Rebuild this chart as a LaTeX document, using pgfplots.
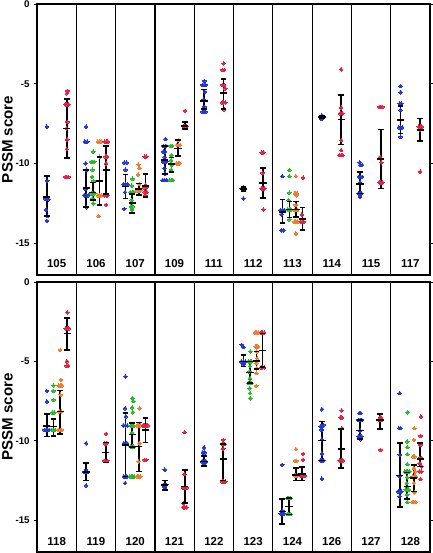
\documentclass[border=0pt]{standalone}
\usepackage{pgfplots}
\pgfplotsset{compat=1.18}
\usepackage{fontspec}
\setmainfont{Liberation Sans}
\definecolor{cblue}{RGB}{35,55,215}
\definecolor{cgreen}{RGB}{40,185,40}
\definecolor{corange}{RGB}{240,125,45}
\definecolor{cred}{RGB}{225,35,65}
\tikzset{lab/.style={font=\fontsize{8.6}{9}\selectfont\bfseries}}
\pgfplotsset{
  panel/.style={
    scale only axis, width=294.75pt, anchor=north west,
    xmin=0, xmax=10, ymin=-17, ymax=0,
    xtick={1,...,9}, xticklabels={}, xmajorgrids,
    major x grid style={black, line width=0.9pt},
    x tick style={draw=none},
    ytick={0,-5,-10,-15}, tick align=outside, major tick length=2pt,
    y tick style={black, line width=0.7pt},
    axis line style={black, line width=1.1pt},
    /pgf/number format/assume math mode=true,
    yticklabel style={font=\fontsize{7.3}{8}\selectfont\bfseries},
    ylabel={PSSM score},
    ylabel style={at={(axis description cs:-0.075,0.5)}, anchor=center, font=\fontsize{11.3}{13}\selectfont\bfseries},
    clip=false,
  },
  pts/.style={only marks, mark=*, mark size=1.35pt, color=#1, mark options={draw=#1, fill=#1, line width=0pt}},
  eb/.style={black, only marks, mark=-, mark size=2.7pt, mark options={black, line width=1.2pt},
    error bars/.cd, y dir=both, y explicit, error mark=none,
    error bar style={black, line width=1.2pt}},
  caps/.style={black, only marks, mark=-, mark size=2.1pt, mark options={black, line width=1.2pt}},
}
\begin{document}
\begin{tikzpicture}
\useasboundingbox (0,0) rectangle (324pt,-414.75pt);
% ---------------- top panel ----------------
\begin{axis}[panel, at={(27.75pt,-3pt)}, height=203.25pt]
\addplot[pts=cblue] coordinates {
(0.25,-7.7)(0.26,-11.1)(0.21,-12.2)(0.25,-12.2)(0.29,-12.25)(0.23,-12.9)(0.27,-13.3)(0.25,-13.6)
(1.25,-7.7)(1.22,-8.64)(1.28,-8.64)(1.24,-10.0)(1.26,-10.4)(1.23,-11.6)(1.20,-12.0)(1.25,-12.0)(1.30,-12.0)(1.25,-12.75)
(2.22,-9.95)(2.28,-9.95)(2.25,-10.4)(2.20,-11.3)(2.25,-11.3)(2.30,-11.3)(2.24,-11.8)(2.22,-12.85)
(3.27,-8.47)(3.22,-8.9)(3.28,-8.9)(3.21,-9.27)(3.26,-9.27)(3.25,-9.6)(3.21,-9.9)(3.25,-9.9)(3.29,-9.9)(3.24,-10.3)(3.26,-10.63)(3.20,-11.05)(3.25,-11.05)(3.30,-11.05)
(4.26,-4.83)(4.21,-5.08)(4.25,-5.08)(4.29,-5.08)(4.27,-5.5)(4.24,-6.0)(4.26,-6.45)(4.21,-6.76)(4.25,-6.76)(4.29,-6.76)
(5.21,-11.57)(5.25,-11.57)(5.29,-11.57)(5.25,-11.5)(5.25,-12.2)
(6.24,-10.8)(6.20,-12.93)(6.25,-12.93)(6.29,-12.93)(6.22,-13.2)(6.22,-14.19)(6.27,-14.19)
(7.22,-7.1)(7.25,-7.0)(7.28,-7.1)(7.24,-7.2)(7.26,-7.2)
(8.21,-9.94)(8.23,-10.1)(8.27,-10.1)(8.19,-10.84)(8.23,-10.84)(8.27,-10.84)(8.22,-11.2)(8.18,-11.89)(8.22,-11.89)(8.26,-11.89)(8.22,-12.1)
(9.25,-5.15)(9.25,-5.54)(9.23,-6.24)(9.27,-6.24)(9.25,-6.65)(9.21,-7.74)(9.25,-7.74)(9.29,-7.74)(9.25,-8.33)
};
\addplot[pts=cgreen] coordinates {
(1.43,-9.27)(1.38,-9.9)(1.42,-9.9)(1.46,-9.9)(1.41,-10.4)(1.40,-10.84)(1.44,-11.1)(1.38,-11.9)(1.42,-11.9)(1.46,-11.9)(1.41,-12.2)(1.43,-12.5)
(2.43,-10.96)(2.41,-11.4)(2.38,-11.8)(2.42,-11.8)(2.46,-11.8)(2.41,-12.3)(2.39,-12.7)(2.44,-12.7)(2.42,-12.9)
(3.40,-8.9)(3.44,-8.9)(3.42,-9.48)(3.41,-9.8)(3.43,-10.1)(3.41,-10.4)(3.38,-11.05)(3.42,-11.05)(3.46,-11.05)
(6.42,-10.42)(6.42,-10.8)(6.42,-11.84)(6.40,-12.3)(6.38,-12.89)(6.42,-12.89)(6.46,-12.89)(6.42,-13.52)
};
\addplot[pts=corange] coordinates {
(1.55,-8.64)(1.59,-8.64)(1.63,-8.64)(1.60,-9.58)(1.55,-12.0)(1.59,-12.0)(1.63,-12.0)(1.57,-13.3)
(2.58,-10.07)(2.61,-10.3)(2.57,-10.7)(2.60,-11.3)(2.55,-11.7)(2.59,-11.7)(2.63,-11.7)
(3.60,-8.54)(3.56,-8.85)(3.60,-8.85)(3.64,-8.85)(3.55,-10.0)(3.59,-10.0)(3.63,-10.0)
(6.59,-10.8)(6.56,-11.9)(6.59,-11.85)(6.62,-11.9)(6.60,-12.0)(6.58,-12.6)(6.56,-12.93)(6.62,-12.93)(6.55,-13.66)(6.59,-13.66)(6.63,-13.66)(6.59,-14.4)
};
\addplot[pts=cred] coordinates {
(0.78,-5.45)(0.76,-5.6)(0.72,-6.3)(0.76,-6.3)(0.80,-6.3)(0.77,-7.4)(0.75,-7.8)(0.77,-8.5)(0.76,-9.1)(0.72,-10.85)(0.76,-10.85)(0.80,-10.85)
(1.72,-8.64)(1.76,-8.64)(1.80,-8.64)(1.74,-9.58)(1.78,-9.58)(1.76,-10.0)(1.72,-12.0)(1.76,-12.0)(1.80,-12.0)(1.76,-12.6)
(2.74,-9.58)(2.78,-9.58)(2.76,-11.36)(2.72,-11.5)(2.78,-11.5)(2.74,-11.8)(2.79,-11.8)(2.76,-12.0)
(3.77,-6.7)(3.72,-7.66)(3.76,-7.66)(3.80,-7.66)
(4.75,-3.73)(4.72,-4.14)(4.76,-4.14)(4.72,-5.08)(4.76,-5.08)(4.79,-5.3)(4.71,-6.17)(4.75,-6.17)(4.79,-6.17)(4.76,-6.61)
(5.72,-9.31)(5.76,-9.31)(5.71,-11.57)(5.75,-11.57)(5.79,-11.57)(5.74,-10.6)(5.76,-12.89)
(6.77,-10.9)(6.71,-13.66)(6.75,-13.66)(6.79,-13.66)(6.74,-13.2)
(7.74,-4.1)(7.74,-6.51)(7.71,-6.86)(7.77,-6.86)(7.74,-8.54)(7.74,-9.17)(7.70,-9.48)(7.74,-9.48)(7.78,-9.48)
(8.71,-6.45)(8.75,-6.45)(8.79,-6.45)(8.76,-9.94)(8.73,-9.6)(8.71,-11.19)(8.75,-11.19)(8.79,-11.19)
(9.71,-7.7)(9.75,-7.7)(9.79,-7.7)(9.75,-7.9)(9.75,-10.52)
};
\addplot[eb] coordinates {
(0.25,-12.1) += (0,1.32) -= (0,1.2)
(0.76,-7.8) += (0,1.84) -= (0,1.87)
(1.25,-11.56) += (0,1.16) -= (0,1.19)
(1.42,-11.82) += (0,0.62) -= (0,0.48)
(1.59,-11.1) += (0,1.52) -= (0,1.5)
(1.76,-10.4) += (0,1.5) -= (0,1.5)
(2.25,-11.45) += (0,0.75) -= (0,0.75)
(2.42,-12.5) += (0,0.6) -= (0,0.6)
(2.59,-11.6) += (0,0.34) -= (0,0.4)
(2.76,-11.4) += (0,0.75) -= (0,0.7)
(3.25,-9.8) += (0,0.89) -= (0,0.87)
(3.42,-10.04) += (0,0.41) -= (0,0.48)
(3.59,-9.06) += (0,0.52) -= (0,0.48)
(3.76,-7.66) += (0,0.27) -= (0,0.19)
(4.25,-6.07) += (0,0.71) -= (0,0.52)
(4.75,-5.6) += (0,0.89) -= (0,1.0)
(5.25,-11.6) += (0,0.12) -= (0,0.14)
(5.75,-11.24) += (0,0.97) -= (0,0.94)
(6.25,-13.04) += (0,0.78) -= (0,0.69)
(6.42,-12.89) += (0,0.49) -= (0,0.51)
(6.59,-12.89) += (0,0.5) -= (0,0.46)
(6.76,-13.5) += (0,0.74) -= (0,0.69)
(7.25,-7.1) += (0,0.08) -= (0,0.08)
(7.74,-7.24) += (0,1.53) -= (0,1.57)
(8.22,-11.3) += (0,0.78) -= (0,0.59)
(8.75,-9.71) += (0,1.84) -= (0,1.86)
(9.25,-7.28) += (0,0.88) -= (0,0.84)
(9.75,-7.91) += (0,0.73) -= (0,0.69)
};
\addplot[caps] coordinates {
(0.25,-10.78)(0.25,-13.3)(0.76,-5.96)(0.76,-9.67)
(1.25,-10.4)(1.25,-12.75)(1.42,-11.2)(1.42,-12.3)(1.59,-9.58)(1.59,-12.6)(1.76,-8.9)(1.76,-11.9)
(2.25,-10.7)(2.25,-12.2)(2.42,-11.9)(2.42,-13.1)(2.59,-11.26)(2.59,-12.0)(2.76,-10.65)(2.76,-12.1)
(3.25,-8.91)(3.25,-10.67)(3.42,-9.63)(3.42,-10.52)(3.59,-8.54)(3.59,-9.54)(3.76,-7.39)(3.76,-7.85)
(4.25,-5.36)(4.25,-6.59)(4.75,-4.71)(4.75,-6.6)
(5.25,-11.48)(5.25,-11.74)(5.75,-10.27)(5.75,-12.18)
(6.25,-12.26)(6.25,-13.73)(6.42,-12.4)(6.42,-13.4)(6.59,-12.39)(6.59,-13.35)(6.76,-12.76)(6.76,-14.19)
(7.25,-7.02)(7.25,-7.18)(7.74,-5.71)(7.74,-8.81)
(8.22,-10.52)(8.22,-11.89)(8.75,-7.87)(8.75,-11.57)
(9.25,-6.4)(9.25,-8.12)(9.75,-7.18)(9.75,-8.6)
};
\node[lab] at (axis cs:0.5,-16.3) {105};
\node[lab] at (axis cs:1.5,-16.3) {106};
\node[lab] at (axis cs:2.5,-16.3) {107};
\node[lab] at (axis cs:3.5,-16.3) {109};
\node[lab] at (axis cs:4.5,-16.3) {111};
\node[lab] at (axis cs:5.5,-16.3) {112};
\node[lab] at (axis cs:6.5,-16.3) {113};
\node[lab] at (axis cs:7.5,-16.3) {114};
\node[lab] at (axis cs:8.5,-16.3) {115};
\node[lab] at (axis cs:9.5,-16.3) {117};
\end{axis}
% ---------------- bottom panel ----------------
\begin{axis}[panel, at={(27.75pt,-211.5pt)}, height=202.5pt]
\addplot[pts=cblue] coordinates {
(0.25,-6.86)(0.25,-7.53)(0.19,-9.31)(0.23,-9.31)(0.27,-9.31)(0.31,-9.31)
(1.25,-10.15)(1.21,-11.95)(1.25,-11.95)(1.29,-11.95)(1.25,-12.81)
(2.25,-5.95)(2.24,-7.95)(2.26,-8.47)(2.20,-9.04)(2.25,-9.04)(2.30,-9.04)(2.21,-10.15)(2.25,-10.2)(2.29,-10.15)(2.21,-12.25)(2.25,-12.25)(2.29,-12.25)(2.24,-12.66)
(3.25,-11.82)(3.21,-12.77)(3.25,-12.77)(3.29,-12.77)(3.25,-12.95)
(4.25,-10.42)(4.22,-10.73)(4.27,-10.73)(4.20,-11.3)(4.25,-11.3)(4.30,-11.3)(4.25,-11.5)
(5.21,-3.96)(5.25,-4.1)(5.20,-5.01)(5.25,-5.01)(5.30,-5.01)(5.25,-5.2)
(6.24,-11.51)(6.20,-14.59)(6.25,-14.59)(6.29,-14.59)(6.25,-14.4)
(7.25,-8.01)(7.21,-9.1)(7.25,-9.1)(7.29,-9.0)(7.24,-9.31)(7.25,-9.9)(7.25,-10.8)(7.21,-11.24)(7.25,-11.24)(7.29,-11.24)(7.25,-12.39)
(8.20,-8.26)(8.24,-8.26)(8.18,-8.68)(8.22,-8.68)(8.26,-8.68)(8.22,-9.35)(8.18,-9.73)(8.22,-9.73)(8.26,-9.73)(8.22,-9.9)
(9.23,-7.0)(9.21,-9.2)(9.25,-9.2)(9.23,-10.88)(9.23,-12.24)(9.19,-13.19)(9.23,-13.19)(9.27,-13.19)(9.23,-13.5)
};
\addplot[pts=cgreen] coordinates {
(0.42,-6.52)(0.42,-6.86)(0.42,-7.42)(0.39,-8.22)(0.44,-8.22)(0.38,-9.31)(0.42,-9.31)(0.46,-9.31)
(2.43,-7.32)(2.45,-7.5)(2.42,-7.9)(2.44,-8.2)(2.38,-9.04)(2.42,-9.04)(2.46,-9.04)(2.42,-9.5)(2.38,-10.36)(2.42,-10.36)(2.46,-10.36)(2.36,-12.25)(2.40,-12.25)(2.44,-12.25)(2.48,-12.25)
(5.43,-4.38)(5.38,-5.01)(5.42,-5.01)(5.46,-5.01)(5.42,-5.3)(5.40,-5.64)(5.42,-6.06)(5.38,-6.37)(5.42,-6.37)(5.46,-6.37)(5.41,-6.69)(5.42,-7.0)(5.43,-7.32)
(6.37,-13.6)(6.41,-13.6)(6.45,-13.6)(6.37,-14.61)(6.41,-14.61)(6.45,-14.61)
(9.43,-8.2)(9.42,-10.04)(9.42,-10.4)(9.42,-10.84)(9.42,-11.47)(9.36,-11.93)(9.40,-11.93)(9.44,-11.93)(9.48,-11.93)(9.42,-12.3)(9.41,-12.66)(9.38,-13.08)(9.42,-13.08)(9.46,-13.08)(9.42,-13.4)(9.42,-13.86)
};
\addplot[pts=corange] coordinates {
(0.59,-4.28)(0.61,-6.16)(0.55,-6.52)(0.59,-6.52)(0.63,-6.52)(0.60,-7.1)(0.56,-8.15)(0.62,-8.15)(0.55,-9.31)(0.59,-9.31)(0.63,-9.31)
(2.61,-7.95)(2.55,-9.04)(2.59,-9.04)(2.63,-9.04)(2.61,-10.15)(2.58,-11.3)(2.55,-12.25)(2.59,-12.25)(2.63,-12.25)
(5.55,-3.19)(5.59,-3.19)(5.63,-3.19)(5.56,-4.07)(5.59,-4.07)(5.62,-4.07)(5.59,-4.38)(5.60,-4.8)(5.58,-5.1)(5.59,-5.43)(5.58,-5.74)(5.58,-6.54)
(6.59,-10.52)(6.57,-11.26)(6.61,-11.26)(6.55,-12.18)(6.59,-12.18)(6.63,-12.18)
(9.60,-9.2)(9.59,-9.94)(9.57,-10.99)(9.61,-10.99)(9.59,-11.72)(9.62,-11.93)(9.56,-12.24)(9.60,-12.24)(9.64,-12.24)(9.59,-12.66)(9.60,-13.25)(9.55,-13.86)(9.59,-13.86)(9.63,-13.86)
};
\addplot[pts=cred] coordinates {
(0.77,-1.91)(0.73,-2.92)(0.77,-2.92)(0.81,-2.92)(0.76,-5.0)(0.75,-5.28)(0.79,-5.28)
(1.76,-9.56)(1.73,-10.15)(1.78,-10.15)(1.71,-11.26)(1.75,-11.26)(1.79,-11.26)
(2.70,-9.04)(2.74,-9.04)(2.78,-9.04)(2.82,-9.04)(2.74,-11.2)(2.78,-11.2)
(3.76,-9.45)(3.75,-12.1)(3.72,-12.97)(3.76,-12.97)(3.80,-12.97)(3.72,-13.92)(3.72,-14.18)(3.76,-14.18)(3.80,-14.18)
(4.74,-9.94)(4.71,-10.2)(4.75,-10.2)(4.78,-10.2)(4.74,-10.5)(4.71,-12.56)(4.75,-12.56)(4.79,-12.56)
(5.70,-3.19)(5.74,-3.19)(5.78,-3.19)(5.70,-5.37)(5.74,-5.37)(5.78,-5.37)
(6.77,-10.82)(6.77,-11.2)(6.70,-12.18)(6.74,-12.18)(6.78,-12.18)(6.82,-12.18)
(7.75,-8.09)(7.72,-8.53)(7.76,-8.53)(7.76,-9.2)(7.70,-11.24)(7.74,-11.24)(7.78,-11.24)
(8.70,-8.68)(8.74,-8.68)(8.78,-8.68)(8.74,-8.5)(8.74,-10.57)
(9.77,-8.47)(9.76,-9.69)(9.76,-10.25)(9.73,-11.09)(9.78,-11.09)(9.74,-11.4)(9.78,-11.6)(9.73,-11.93)(9.78,-11.93)(9.76,-12.41)
};
\addplot[eb] coordinates {
(0.25,-9.06) += (0,0.76) -= (0,0.67)
(0.42,-9.1) += (0,0.46) -= (0,0.59)
(0.59,-8.15) += (0,1.32) -= (0,1.43)
(0.77,-3.25) += (0,0.99) -= (0,1.03)
(1.25,-11.95) += (0,0.55) -= (0,0.55)
(1.75,-10.73) += (0,0.63) -= (0,0.63)
(2.25,-10.25) += (0,1.99) -= (0,2.0)
(2.42,-9.6) += (0,0.73) -= (0,0.78)
(2.59,-10.36) += (0,1.51) -= (0,1.57)
(2.76,-9.31) += (0,0.73) -= (0,0.79)
(3.25,-12.77) += (0,0.27) -= (0,0.31)
(3.76,-12.87) += (0,1.05) -= (0,1.05)
(4.25,-11.3) += (0,0.36) -= (0,0.3)
(4.74,-11.15) += (0,0.96) -= (0,1.35)
(5.25,-5.01) += (0,0.42) -= (0,0.31)
(5.42,-5.7) += (0,0.69) -= (0,0.67)
(5.59,-4.97) += (0,0.59) -= (0,0.52)
(5.74,-4.32) += (0,1.09) -= (0,1.05)
(6.24,-14.44) += (0,0.77) -= (0,0.78)
(6.41,-14.13) += (0,0.53) -= (0,0.5)
(6.59,-12.14) += (0,0.42) -= (0,0.36)
(6.745,-12.1) += (0,0.45) -= (0,0.4)
(7.25,-9.98) += (0,1.2) -= (0,1.26)
(7.74,-10.5) += (0,1.23) -= (0,1.22)
(8.22,-9.35) += (0,0.67) -= (0,0.55)
(8.73,-8.68) += (0,0.36) -= (0,0.59)
(9.23,-12.18) += (0,2.03) -= (0,1.99)
(9.42,-12.87) += (0,0.88) -= (0,0.8)
(9.59,-12.35) += (0,0.84) -= (0,0.84)
(9.75,-11.15) += (0,1.0) -= (0,0.47)
};
\addplot[caps] coordinates {
(0.25,-8.3)(0.25,-9.73)(0.42,-8.64)(0.42,-9.69)(0.59,-6.83)(0.59,-9.58)(0.77,-2.26)(0.77,-4.28)
(1.25,-11.4)(1.25,-12.5)(1.75,-10.1)(1.75,-11.36)
(2.25,-8.26)(2.25,-12.25)(2.42,-8.87)(2.42,-10.38)(2.59,-8.85)(2.59,-11.93)(2.76,-8.58)(2.76,-10.1)
(3.25,-12.5)(3.25,-13.08)(3.76,-11.82)(3.76,-13.92)
(4.25,-10.94)(4.25,-11.6)(4.74,-10.19)(4.74,-12.5)
(5.25,-4.59)(5.25,-5.32)(5.42,-5.01)(5.42,-6.37)(5.59,-4.38)(5.59,-5.49)(5.74,-3.23)(5.74,-5.37)
(6.24,-13.67)(6.24,-15.22)(6.41,-13.6)(6.41,-14.63)(6.59,-11.72)(6.59,-12.5)(6.745,-11.65)(6.745,-12.5)
(7.25,-8.78)(7.25,-11.24)(7.74,-9.27)(7.74,-11.72)
(8.22,-8.68)(8.22,-9.9)(8.73,-8.32)(8.73,-9.27)
(9.23,-10.15)(9.23,-14.17)(9.42,-11.99)(9.42,-13.67)(9.59,-11.51)(9.59,-13.19)(9.75,-10.15)(9.75,-11.62)
};
\node[lab] at (axis cs:0.5,-16.33) {118};
\node[lab] at (axis cs:1.5,-16.33) {119};
\node[lab] at (axis cs:2.5,-16.33) {120};
\node[lab] at (axis cs:3.5,-16.33) {121};
\node[lab] at (axis cs:4.5,-16.33) {122};
\node[lab] at (axis cs:5.5,-16.33) {123};
\node[lab] at (axis cs:6.5,-16.33) {124};
\node[lab] at (axis cs:7.5,-16.33) {126};
\node[lab] at (axis cs:8.5,-16.33) {127};
\node[lab] at (axis cs:9.5,-16.33) {128};
\end{axis}
\end{tikzpicture}
\end{document}
